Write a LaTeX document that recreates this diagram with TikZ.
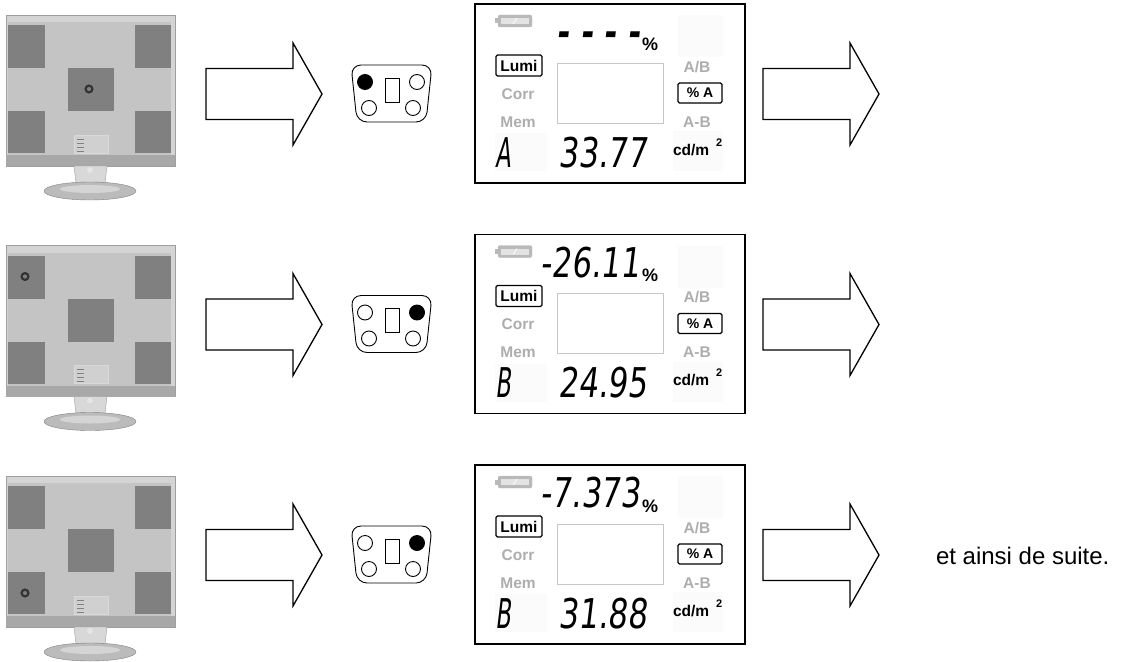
\documentclass[tikz,border=0pt]{standalone}
\usepackage{fontspec}
\setmainfont{Liberation Sans}
\newfontfamily\lcdfont[FakeSlant=0.12,FakeStretch=0.75]{DejaVu Sans}
\newfontfamily\lcdnarrow[FakeSlant=0.12,FakeStretch=0.55]{DejaVu Sans}
\usetikzlibrary{positioning}

\definecolor{bezel}{gray}{0.83}
\definecolor{bezeldark}{gray}{0.62}
\definecolor{screengray}{gray}{0.77}
\definecolor{tilegray}{gray}{0.5}
\definecolor{labelgray}{gray}{0.68}

\begin{document}
\begin{tikzpicture}[x=1pt,y=-1pt]
\tikzstyle{every node}=[inner sep=0pt, outer sep=0pt]
\tikzstyle{blockarrow}=[draw, line width=1.3pt, fill=white]
\tikzstyle{lcdframe}=[draw, line width=1.8pt]
\tikzstyle{onlabel}=[font=\bfseries\fontsize{15.5}{15.5}\selectfont]
\tikzstyle{offlabel}=[onlabel, text=labelgray]
\tikzstyle{tagbox}=[draw, line width=1.3pt, rounded corners=1.5pt]
\tikzstyle{bigdigits}=[font=\lcdfont\fontsize{41}{41}\selectfont]
\tikzstyle{key}=[draw, line width=0.9pt]
\useasboundingbox (0,0) rectangle (1131,661);

\foreach \row/\mx/\my/\kx/\topval/\botval/\ab in
  {0/89/89/365/{\bfseries- - - -}/33.77/A, 1/25/46/417/-26.11/24.95/B, 2/25/132/417/-7.373/31.88/B}{
\begin{scope}[shift={(0,230.5*\row)}]
% monitor with test pattern
\draw[draw=bezeldark, fill=bezel, line width=0.6pt] (6,15) rectangle (175,166);
\fill[bezeldark!90] (6,155) rectangle (175,166);
\fill[screengray] (8,22) rectangle (171,155);
\fill[tilegray] (8,25) rectangle (45,68);
\fill[tilegray] (135,25) rectangle (171,68);
\fill[tilegray] (68,68) rectangle (114,111);
\fill[tilegray] (8,111) rectangle (45,153);
\fill[tilegray] (135,111) rectangle (171,153);
\draw[gray!30, fill=screengray!80, line width=0.4pt] (74,135) rectangle (108,153);
\foreach \ty in {139,143,147,151} \draw[gray, line width=0.4pt] (77,\ty) -- (84,\ty);
\draw[draw=bezeldark, fill=bezel!90] (74,166) -- (107,166) -- (105,183) -- (76,183) -- cycle;
\fill[white!80!gray] (90,170) circle (3pt);
\draw[draw=gray, fill=bezeldark!70] (90,191) ellipse (46pt and 9pt);
\fill[bezel] (90,189) ellipse (30pt and 4pt);
\draw[black!80, line width=2.2pt] (\mx,\my) circle (3.4pt);
% arrows
\foreach \ax in {206,763}
  \draw[blockarrow] (\ax,68.5) -- (\ax+87,68.5) -- (\ax+87,43) -- (\ax+116,94)
    -- (\ax+87,145) -- (\ax+87,119.5) -- (\ax,119.5) -- cycle;
% keypad
\draw[key, rounded corners=10pt] (351,65) -- (432,65) -- (426,122) -- (357,122) -- cycle;
\fill (\kx,82) circle (7.5pt);
\foreach \kx/\ky in {365/82, 417/82, 369/108, 413/108}
  \draw[key] (\kx,\ky) circle (7.5pt);
\draw[key] (385,78) rectangle (399,102);
% lcd
\draw[lcdframe] (475,4) rectangle (745,183);
\fill[gray!3] (678,15) rectangle (723,57);
\fill[gray!3] (495,133) rectangle (547,171);
\fill[gray!3] (673,131) rectangle (723,171);
\draw[gray!55, fill=gray!55, rounded corners=2pt] (498,15) rectangle (532,27);
\fill[gray!55] (495,18.5) rectangle (498,23.5);
\fill[gray!22] (501,18) rectangle (529,24);
\draw[white, line width=0.8pt] (513,24) -- (517,18);
\draw[gray!45, line width=0.8pt] (557,63) rectangle (663,123);
\node[tagbox, onlabel, minimum width=46pt, minimum height=21pt] (lumi\row) at (519,65.5) {Lumi};
\node[offlabel] (corr\row) at (518,94) {Corr};
\node[offlabel] (mem\row) at (518,122) {Mem};
\node[offlabel] (ratio\row) at (697,67) {A/B};
\node[tagbox, onlabel, font=\bfseries\fontsize{14}{14}\selectfont, minimum width=44pt, minimum height=20pt] (pct\row) at (700,93) {\% A};
\node[offlabel] (diff\row) at (697,122) {A-B};
\node[onlabel, anchor=base west] (unit\row) at (673,155) {cd/m\hspace{7pt}\raisebox{9pt}{\fontsize{11}{11}\selectfont 2}};
\node[bigdigits, anchor=base east] (delta\row) at (640,46.5) {\topval};
\node[anchor=base west, font=\bfseries\fontsize{18}{18}\selectfont] (sign\row) at (642,51) {\%};
\node[bigdigits, anchor=base east] (lumval\row) at (647,167) {\botval};
\node[font=\lcdnarrow\fontsize{41}{41}\selectfont, anchor=base west] (chan\row) at (495,167) {\ab};
\end{scope}
}

\node[anchor=west, font=\fontsize{24}{24}\selectfont] (suite) at (936,556) {et ainsi de suite.};
\end{tikzpicture}
\end{document}
